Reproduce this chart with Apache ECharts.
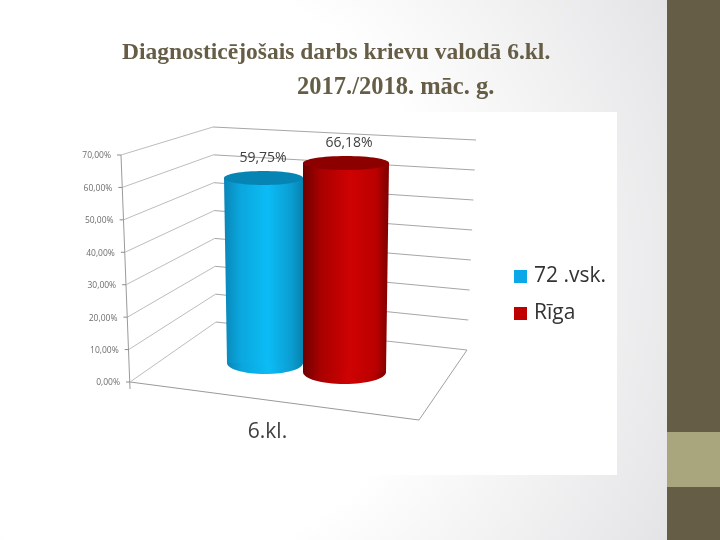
<!DOCTYPE html>
<html>
<head>
<meta charset="utf-8">
<script src="https://cdn.jsdelivr.net/npm/echarts@6/dist/echarts.min.js"></script>
<style>
html, body { margin: 0; padding: 0; background: #fff; }
#main { width: 720px; height: 540px; }
</style>
</head>
<body>
<div id="main"></div>
<script>
var categories = ['6.kl.'];
var seriesNames = ['72 .vsk.', 'Rīga'];
var schoolValues = [59.75];
var rigaValues = [66.18];
var tickValues = [0, 10, 20, 30, 40, 50, 60, 70];
var tickLabels = ['0,00%', '10,00%', '20,00%', '30,00%', '40,00%', '50,00%', '60,00%', '70,00%'];

var chart = echarts.init(document.getElementById('main'));

// 3D frame: front edge leans left, back wall is shorter
function renderWall(params, api) {
    var v = api.value(0);
    var p = api.coord([0, v]);
    var base = api.coord([0, 0]);
    var t = v / 70;
    var fx = 130 - 9 * t;
    var fy = p[1];
    var bx = 216 - 3 * t;
    var by = base[1] - 60 - 195 * t;
    var children = [
        { type: 'polyline', shape: { points: [[fx, fy], [bx, by]] }, style: { stroke: '#bdbdbd', lineWidth: 1, fill: null } },
        { type: 'line', shape: { x1: fx - 4, y1: fy, x2: fx, y2: fy }, style: { stroke: '#8c8c8c', lineWidth: 1 } },
        { type: 'text', style: { x: fx - 10, y: fy + 1, text: tickLabels[params.dataIndex], fill: '#6e6e6e', font: '8.5px "Open Sans"', align: 'right', verticalAlign: 'middle' } }
    ];
    children.push({ type: 'line', shape: { x1: bx, y1: by, x2: 467 + 9 * t, y2: base[1] - 32 - 210 * t }, style: { stroke: '#a6a6a6', lineWidth: 1 } });
    return { type: 'group', children: children };
}

function renderFrame(params, api) {
    var base = api.coord([0, 0]);
    var top = api.coord([0, 70]);
    return {
        type: 'group',
        children: [
            { type: 'line', shape: { x1: 121, y1: top[1], x2: 130, y2: base[1] + 7 }, style: { stroke: '#9a9a9a', lineWidth: 1 } },
            { type: 'line', shape: { x1: 130, y1: base[1], x2: 419, y2: base[1] + 38 }, style: { stroke: '#9a9a9a', lineWidth: 1 } },
            { type: 'line', shape: { x1: 419, y1: base[1] + 38, x2: 467, y2: base[1] - 32 }, style: { stroke: '#a0a0a0', lineWidth: 1 } }
        ]
    };
}

function cylinder(opt) {
    return function (params, api) {
        var v = api.value(1);
        var base = api.coord([0, 0]);
        var h = (base[1] - api.coord([0, v])[1]) * opt.scale;
        var by = base[1] + opt.dy;
        var ty = by - h;
        var body = new echarts.graphic.LinearGradient(0, 0, 1, 0, opt.stops);
        return {
            type: 'group',
            children: [
                { type: 'ellipse', shape: { cx: (opt.bl + opt.br) / 2, cy: by, rx: (opt.br - opt.bl) / 2, ry: opt.ryBottom }, style: { fill: body } },
                { type: 'polygon', shape: { points: [[opt.tl, ty], [opt.tr, ty], [opt.br, by], [opt.bl, by]] }, style: { fill: body } },
                { type: 'ellipse', shape: { cx: (opt.tl + opt.tr) / 2, cy: ty, rx: (opt.tr - opt.tl) / 2, ry: opt.ryTop }, style: { fill: opt.cap } },
                { type: 'text', style: { x: opt.lx, y: ty + opt.ly, text: api.value(1).toFixed(2).replace('.', ',') + '%', fill: '#404040', font: '14px "Open Sans"', align: 'center', verticalAlign: 'middle' } }
            ]
        };
    };
}

var blueStops = [
    { offset: 0, color: '#0a86b8' }, { offset: 0.2, color: '#0aa6dc' },
    { offset: 0.55, color: '#0cbcf6' }, { offset: 0.85, color: '#0a9ed2' }, { offset: 1, color: '#0882ae' }
];
var redStops = [
    { offset: 0, color: '#6e0000' }, { offset: 0.2, color: '#a80000' },
    { offset: 0.55, color: '#cf0202' }, { offset: 0.85, color: '#ba0000' }, { offset: 1, color: '#7c0000' }
];

var option = {
    animation: false,
    backgroundColor: {
        type: 'radial', x: 0.2, y: 0.5, r: 1.09,
        colorStops: [{ offset: 0, color: '#ffffff' }, { offset: 0.51, color: '#ffffff' }, { offset: 1, color: '#e4e4e6' }]
    },
    graphic: [
        { type: 'rect', z: -10, shape: { x: 667, y: 0, width: 53, height: 540 }, style: { fill: '#655d46' } },
        { type: 'rect', z: -9, shape: { x: 667, y: 432, width: 53, height: 55 }, style: { fill: '#a9a57c' } },
        { type: 'rect', z: -10, shape: { x: 72, y: 112, width: 545, height: 363 }, style: { fill: '#ffffff' } }
    ],
    title: [
        { text: 'Diagnosticējošais darbs krievu valodā 6.kl.', left: 117, top: 36,
          textStyle: { fontFamily: 'Liberation Serif', fontSize: 23.5, fontWeight: 'bold', color: '#655d46' } },
        { text: '2017./2018. māc. g.', left: 292, top: 70,
          textStyle: { fontFamily: 'Liberation Serif', fontSize: 24.5, fontWeight: 'bold', color: '#655d46' } }
    ],
    legend: {
        left: 509, top: 261, orient: 'vertical', itemWidth: 13, itemHeight: 13, itemGap: 16,
        icon: 'rect',
        textStyle: { fontFamily: 'Open Sans', fontSize: 21, color: '#333333', padding: [0, 0, 0, 2] },
        data: [{ name: seriesNames[0], itemStyle: { color: '#0aa8e8' } }, { name: seriesNames[1], itemStyle: { color: '#c00000' } }]
    },
    grid: { left: 130, top: 155, width: 345, height: 227 },
    xAxis: { type: 'category', data: categories, axisLine: { show: false }, axisTick: { show: false },
        axisLabel: { color: '#404040', fontFamily: 'Open Sans', fontSize: 21, margin: 40, align: 'center', padding: [0, 70, 0, 0] } },
    yAxis: { type: 'value', min: 0, max: 70, interval: 10, show: false },
    series: [
        { type: 'custom', name: 'frame', silent: true, z: 1, renderItem: renderFrame, data: [[0]], encode: { y: 0 } },
        { type: 'custom', name: 'walls', silent: true, z: 1, renderItem: renderWall, data: tickValues.map(function (v) { return [v]; }), encode: { y: 0 } },
        { type: 'custom', name: seriesNames[0], z: 3, color: '#0aa8e8',
          renderItem: cylinder({ tl: 224, tr: 303, bl: 227, br: 303, dy: -19, scale: 0.955, ryTop: 7, ryBottom: 11, stops: blueStops, cap: '#0684b4', lx: 263, ly: -20 }),
          data: schoolValues.map(function (v, i) { return [i, v]; }), encode: { x: 0, y: 1 } },
        { type: 'custom', name: seriesNames[1], z: 4, color: '#c00000',
          renderItem: cylinder({ tl: 303, tr: 389, bl: 303, br: 386, dy: -10, scale: 0.974, ryTop: 7, ryBottom: 12, stops: redStops, cap: '#8c0000', lx: 349, ly: -20 }),
          data: rigaValues.map(function (v, i) { return [i, v]; }), encode: { x: 0, y: 1 } }
    ]
};
chart.setOption(option);
</script>
</body>
</html>
